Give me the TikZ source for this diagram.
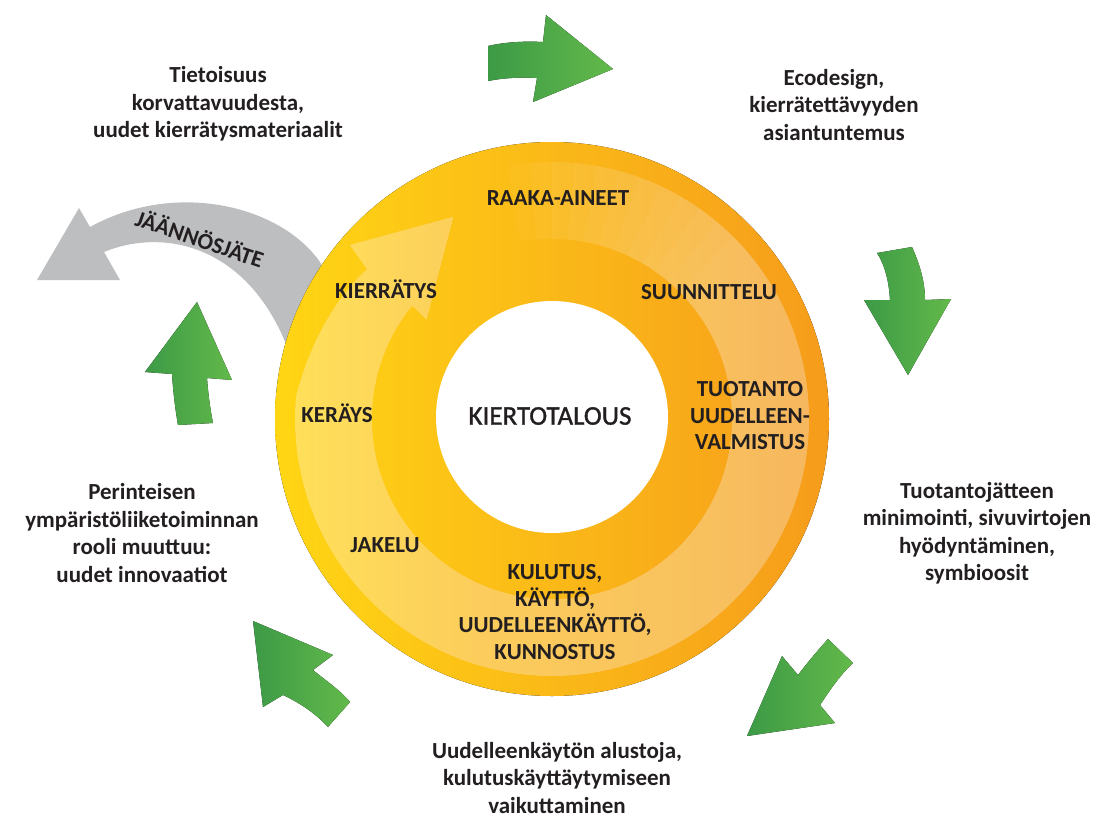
\documentclass[tikz,border=0pt]{standalone}
\usepackage{fontspec}
\setmainfont{Carlito}
\newfontfamily\medfont[FakeBold=1.2]{Carlito}
\usetikzlibrary{calc}
\definecolor{ringL}{HTML}{FFD614}
\definecolor{ringR}{HTML}{F69C1B}
\definecolor{gD}{HTML}{3D9A46}
\definecolor{gM}{HTML}{46A449}
\definecolor{gL}{HTML}{62B94A}
\definecolor{grayA}{HTML}{BDBEC0}
\definecolor{txt}{HTML}{231F20}
\begin{document}
\begin{tikzpicture}[x=1pt,y=-1pt,
  garrow/.style={left color=gD, middle color=gM, right color=gL, draw=none},
  outertext/.style={font=\bfseries\fontsize{23}{27.5}\selectfont, align=center, text=txt},
  ringtext/.style={font=\bfseries\fontsize{23}{26.5}\selectfont, align=center, text=txt}]
\useasboundingbox (0,0) rectangle (1096,820);
\coordinate (c) at (552,419);
% grey residual arrow
\fill[grayA] (335,290) -- (320,262) .. controls (280,205) and (175,180) .. (90,227)
  -- (79,208) -- (37,280) -- (120,280) -- (104,252)
  .. controls (170,225) and (260,250) .. (295,370) -- cycle;
% ring
\fill[left color=ringL, right color=ringR] (c) circle[radius=277pt];
% lighter circular arrow band, stacked layers so that it fades in at the start
\foreach \a in {-100,-95,...,-45}{
  \fill[white, opacity=0.0328] ($(c)+(\a:257)$) arc[start angle=\a, end angle=185, radius=257]
    .. controls ($(c)+(200:255)$) and ($(c)+(212:245)$) .. ($(c)+(219:238)$)
    -- ($(c)+(220.7:267)$) -- ($(c)+(244:225)$) -- ($(c)+(218.4:160)$)
    -- ($(c)+(219:180)$) arc[start angle=219, end angle=\a, radius=180] -- cycle;
}
% hole
\fill[white] (552,417) circle[radius=116pt];
% green arrows
\fill[garrow] (488,46) .. controls (505,42) and (525,41) .. (543,42) -- (546,15) -- (613,69)
  -- (533,102) -- (537,78) .. controls (520,77) and (503,78) .. (488,81) -- cycle;
\fill[garrow] (877,253) -- (912,247) .. controls (920,265) and (925,282) .. (925,300)
  -- (951,299) -- (908,375) -- (864,300) -- (890,300) .. controls (889,282) and (885,265) .. (877,253) -- cycle;
\fill[garrow] (828,639) -- (853,663) .. controls (840,675) and (830,690) .. (820,705)
  -- (835,723) -- (747,736) -- (782,656) -- (798,675) .. controls (808,662) and (818,650) .. (828,639) -- cycle;
\fill[garrow] (253,621) -- (333,655) -- (313,670) .. controls (325,680) and (340,690) .. (350,702)
  -- (328,727) .. controls (315,713) and (300,703) .. (283,695) -- (263,707) -- cycle;
\fill[garrow] (197,302) -- (232,380) -- (207,378) .. controls (208,392) and (210,408) .. (213,423)
  -- (178,425) .. controls (175,408) and (173,390) .. (172,374) -- (145,372) -- cycle;
% outer texts
\node[outertext] (t1) at (218,104) {Tietoisuus\\korvattavuudesta,\\uudet kierrätysmateriaalit};
\node[outertext] (t2) at (834,105) {Ecodesign,\\kierrätettävyyden\\asiantuntemus};
\node[outertext] (t3) at (977,533) {Tuotantojätteen\\minimointi, sivuvirtojen\\hyödyntäminen,\\symbioosit};
\node[outertext] (t4) at (557,778) {Uudelleenkäytön alustoja,\\kulutuskäyttäytymiseen\\vaikuttaminen};
\node[outertext] (t5) at (142,533) {Perinteisen\\ympäristöliiketoiminnan\\rooli muuttuu:\\uudet innovaatiot};
% ring texts
\node[ringtext] (r1) at (558,198) {RAAKA-AINEET};
\node[ringtext] (r2) at (709,292) {SUUNNITTELU};
\node[ringtext] (r3) at (750,416) {TUOTANTO\\UUDELLEEN-\\VALMISTUS};
\node[ringtext] (r4) at (555,612) {KULUTUS,\\KÄYTTÖ,\\UUDELLEENKÄYTTÖ,\\KUNNOSTUS};
\node[ringtext] (r5) at (385,545) {JAKELU};
\node[ringtext] (r6) at (337,413) {KERÄYS};
\node[ringtext] (r7) at (386,289) {KIERRÄTYS};
\node[font=\medfont\fontsize{27}{30}\selectfont, text=txt] (center) at (550,416) {KIERTOTALOUS};
\node[ringtext, rotate=-19] (res) at (200,238) {JÄÄNNÖSJÄTE};
\end{tikzpicture}
\end{document}
